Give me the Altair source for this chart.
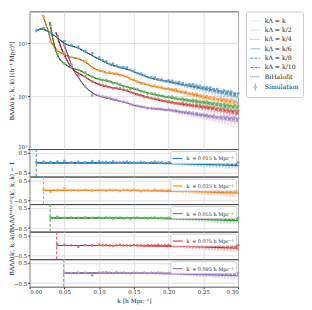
import altair as alt
import pandas as pd

# ---------------- data ----------------
K_GRID = [0.01, 0.02, 0.03, 0.04, 0.05, 0.06, 0.07, 0.08, 0.09, 0.10,
          0.105, 0.11, 0.115, 0.12, 0.125, 0.13, 0.135, 0.14, 0.145, 0.15,
          0.155, 0.16, 0.165, 0.17, 0.175, 0.18, 0.185, 0.19, 0.195, 0.20,
          0.205, 0.21, 0.215, 0.22, 0.225, 0.23, 0.235, 0.24, 0.245, 0.25,
          0.255, 0.26, 0.265, 0.27, 0.275, 0.28, 0.285, 0.29, 0.295, 0.30]

KPRIME = ["k′ = 0.015 h Mpc⁻¹", "k′ = 0.035 h Mpc⁻¹", "k′ = 0.055 h Mpc⁻¹",
          "k′ = 0.075 h Mpc⁻¹", "k′ = 0.095 h Mpc⁻¹"]
BASE = ["#1f77b4", "#ff7f0e", "#2ca02c", "#d62728", "#9467bd"]
K_START = [0.0095, 0.0200, 0.0295, 0.0390, 0.0490]

# BiHalofit model on the tail of K_GRID
B_GRID_0 = [1720, 1840, 1560, 1260, 1000, 890, 810, 690, 590, 500,
            465, 430, 400, 380, 365, 350, 338, 325, 308, 290,
            272, 255, 242, 230, 220, 212, 206, 201, 197, 192,
            186, 180, 175, 170, 166, 162, 158, 154, 150, 146,
            142, 138, 134, 130, 127, 123, 120, 116, 113, 110]
B_GRID_1 = [3100, 1150, 720, 610, 545, 510, 440, 355, 305,
            292, 282, 275, 268, 262, 255, 244, 230, 214, 200,
            188, 178, 170, 163, 158, 153, 149, 145, 141, 138,
            134, 130, 126, 122, 118, 115, 111, 108, 104, 101,
            98, 96, 93, 91, 89, 87, 85, 83, 81, 79]
B_GRID_2 = [2100, 600, 410, 345, 312, 270, 232, 208,
            202, 196, 190, 182, 174, 164, 156, 150, 144, 138,
            132, 126, 121, 116, 112, 108, 105, 102, 99, 97,
            95, 93, 91, 89, 87, 85, 83, 82, 80, 79,
            77, 76, 74, 73, 71, 70, 68, 67, 66, 65]
B_GRID_3 = [1300, 600, 350, 272, 230, 190, 166,
            159, 153, 148, 144, 140, 136, 132, 127, 120, 113,
            108, 103, 99, 95, 92, 89, 86, 84, 81, 79,
            77, 76, 74, 73, 71, 70, 68, 67, 66, 65,
            63, 62, 60, 59, 58, 57, 55, 54, 53, 52]
B_GRID_4 = [900, 400, 230, 150, 117, 100,
            96, 93, 90, 87, 83, 80, 77, 75, 71, 67,
            65, 63, 61, 60, 59, 58, 57, 57, 56, 56,
            54, 53, 52, 51, 50, 49, 48, 47, 46, 45,
            44, 43, 42, 41, 41, 40, 40, 39, 39, 38]

# extra model points (steep starts, wiggles)
EXTRA_K_0 = [0.0095, 0.015, 0.025, 0.035, 0.045, 0.055, 0.065, 0.075, 0.085, 0.095]
EXTRA_B_0 = [1700, 1860, 1720, 1420, 1120, 930, 860, 750, 640, 540]
EXTRA_K_1 = [0.019, 0.022, 0.026, 0.033, 0.036, 0.045, 0.055, 0.065, 0.075, 0.085, 0.095]
EXTRA_B_1 = [3400, 2600, 1850, 950, 850, 660, 570, 530, 480, 400, 325]
EXTRA_K_2 = [0.029, 0.031, 0.033, 0.035, 0.0375, 0.0443, 0.056, 0.065, 0.075, 0.085, 0.095]
EXTRA_B_2 = [2500, 1800, 1290, 1000, 740, 480, 363, 325, 295, 250, 218]
EXTRA_K_3 = [0.038, 0.042, 0.045, 0.049, 0.052, 0.056, 0.065, 0.074, 0.085, 0.095]
EXTRA_B_3 = [1600, 1100, 850, 640, 530, 420, 300, 258, 208, 178]
EXTRA_K_4 = [0.048, 0.051, 0.055, 0.059, 0.0626, 0.066, 0.069, 0.074, 0.0856, 0.095]
EXTRA_B_4 = [1050, 820, 600, 430, 320, 270, 240, 190, 129, 107]

# simulation residuals w.r.t. BiHalofit (on the tail of K_GRID)
RES_0 = [0.02, 0.05, 0.04, 0.06, 0.10, 0.03, 0.05, 0.02, 0.09, 0.07,
         0.03, 0.05, 0.02, 0.08, 0.03, 0.01, 0.04, 0.06, 0.02, 0.03,
         0.00, 0.04, 0.02, -0.01, 0.03, 0.05, 0.01, 0.02, -0.02, 0.03,
         0.04, 0.00, 0.05, 0.02, -0.01, 0.03, 0.06, 0.02, 0.04, 0.00,
         0.03, 0.05, 0.01, 0.04, -0.02, 0.03, 0.02, 0.05, 0.01, 0.03]
RES_1 = [0.04, -0.07, 0.02, 0.09, 0.01, 0.00, 0.03, -0.02, 0.02,
         0.01, -0.02, 0.03, 0.00, 0.02, -0.03, 0.01, 0.02, -0.01, 0.03,
         0.00, -0.04, 0.02, 0.01, -0.02, 0.03, 0.00, 0.01, -0.03, 0.02,
         0.01, 0.03, -0.01, 0.00, 0.02, -0.02, 0.01, 0.03, 0.00, -0.01,
         0.02, 0.00, 0.01, -0.02, 0.03, 0.01, 0.00, 0.02, -0.01]
RES_2 = [0.03, 0.05, 0.01, 0.02, 0.00, 0.03, 0.01, 0.02,
         -0.01, 0.02, 0.00, -0.03, 0.01, 0.02, -0.02, 0.00, -0.04, 0.01,
         0.02, -0.01, 0.00, -0.03, 0.01, 0.02, -0.01, 0.00, -0.02, 0.01,
         0.03, 0.00, -0.02, 0.01, 0.00, -0.03, 0.02, 0.01, -0.01, 0.00,
         0.02, -0.02, 0.01, 0.00, -0.01, 0.02, 0.00, -0.02, 0.01, 0.00]
RES_3 = [0.04, 0.03, 0.01, -0.06, 0.02, 0.00, 0.03,
         0.01, 0.02, 0.00, -0.02, 0.01, 0.03, 0.00, 0.01, -0.01, 0.02,
         0.00, 0.01, -0.02, 0.02, 0.00, 0.01, 0.03, -0.01, 0.00, 0.02,
         0.01, -0.02, 0.00, 0.02, 0.01, -0.01, 0.00, 0.03, 0.01, -0.02,
         0.00, 0.01, 0.02, -0.01, 0.00, 0.02, 0.01, -0.02, 0.00, 0.01]
RES_4 = [0.01, 0.00, 0.02, 0.01, -0.12, 0.02,
         0.03, 0.04, 0.02, 0.00, 0.03, 0.01, 0.02, 0.00, -0.01, 0.02,
         0.01, 0.00, 0.02, -0.01, 0.01, 0.00, 0.02, 0.01, -0.02, 0.00,
         0.01, 0.02, 0.00, -0.01, 0.01, 0.02, 0.00, 0.01, -0.02, 0.00,
         0.01, 0.00, 0.02, -0.01, 0.00, 0.01, 0.00, -0.01, 0.01, 0.00]

# relative simulation errors on K_GRID
ERR = [0.09, 0.06, 0.05, 0.045, 0.04, 0.035, 0.032, 0.03, 0.028, 0.026,
       0.025, 0.025, 0.024, 0.024, 0.023, 0.023, 0.022, 0.022, 0.021, 0.021,
       0.02, 0.02, 0.02, 0.019, 0.019, 0.019, 0.018, 0.018, 0.018, 0.018,
       0.017, 0.017, 0.017, 0.017, 0.016, 0.016, 0.016, 0.016, 0.016, 0.015,
       0.015, 0.015, 0.015, 0.015, 0.015, 0.014, 0.014, 0.014, 0.014, 0.014]

LABELS = ["kΛ = k", "kΛ = k/2", "kΛ = k/4", "kΛ = k/6", "kΛ = k/8", "kΛ = k/10",
          "BiHalofit", "Simulation"]

# k_Λ variants relative to BiHalofit beyond k = 0.15 (zero below)
FAN_K = [0.175, 0.2, 0.225, 0.25, 0.275, 0.3]
FAN_R = [[-0.03, -0.07, -0.12, -0.18, -0.24, -0.31],
         [-0.025, -0.055, -0.095, -0.14, -0.19, -0.25],
         [-0.02, -0.04, -0.07, -0.105, -0.145, -0.19],
         [-0.015, -0.03, -0.05, -0.075, -0.105, -0.135],
         [-0.01, -0.02, -0.035, -0.05, -0.07, -0.09],
         [-0.005, -0.01, -0.018, -0.027, -0.038, -0.05]]

X_TICKS = [0.0, 0.05, 0.10, 0.15, 0.20, 0.25, 0.30]

# ---------------- styles ----------------
W = (255, 255, 255)
BK = (0, 0, 0)
SHADE = [(W, 0.72), (W, 0.6), (W, 0.46), (W, 0.2), (BK, 0.08), (BK, 0.22), (BK, 0.45)]
SIM_SHADE = (W, 0.3)
DASH = [[2, 1.2], [2, 1.2], [2, 1.2], [1, 0], [3, 1.2], [3, 1.2], [1, 1], [1, 0]]
WIDTH = [0.8, 0.8, 0.8, 1.3, 0.8, 0.8, 1.0, 1.0]
EB_PATH = "M0,-0.8V0.8M-0.25,0A0.25,0.25,0,1,1,0.25,0A0.25,0.25,0,1,1,-0.25,0"


def mix(c, t, to):
    r, g, b = int(c[1:3], 16), int(c[3:5], 16), int(c[5:7], 16)
    return "#%02x%02x%02x" % (round(r + (to[0] - r) * t),
                              round(g + (to[1] - g) * t),
                              round(b + (to[2] - b) * t))


B_GRID = [B_GRID_0, B_GRID_1, B_GRID_2, B_GRID_3, B_GRID_4]
EXTRA_K = [EXTRA_K_0, EXTRA_K_1, EXTRA_K_2, EXTRA_K_3, EXTRA_K_4]
EXTRA_B = [EXTRA_B_0, EXTRA_B_1, EXTRA_B_2, EXTRA_B_3, EXTRA_B_4]
RES = [RES_0, RES_1, RES_2, RES_3, RES_4]

top_rows, res_rows, sim_rows = [], [], []
for i in range(5):
    n = len(B_GRID[i])
    ks = K_GRID[-n:]
    errs = ERR[-n:]
    grid = {round(k, 4): b for k, b in zip(ks, B_GRID[i])}
    model = sorted(list(zip(ks, B_GRID[i])) + list(zip(EXTRA_K[i], EXTRA_B[i])))
    cols = [mix(BASE[i], t, to) for to, t in SHADE]
    for v in range(6):
        pts = [(k, b) for k, b in model if k <= 0.15] + \
              [(fk, grid[round(fk, 4)] * (1 + FAN_R[v][j])) for j, fk in enumerate(FAN_K)]
        for k, b in pts:
            top_rows.append(dict(series=i, label=LABELS[v], k=k, B=b, hex=cols[v], ord=v))
        rpts = [(K_START[i], 0.0), (0.15, 0.0)] + [(fk, FAN_R[v][j]) for j, fk in enumerate(FAN_K)]
        for k, r in rpts:
            res_rows.append(dict(series=i, label=LABELS[v], k=k, r=r, hex=cols[v], ord=v,
                                 plabel=KPRIME[i]))
    for k, b in model:
        top_rows.append(dict(series=i, label=LABELS[6], k=k, B=b, hex=cols[6], ord=6))
    for k in (K_START[i], 0.30):
        res_rows.append(dict(series=i, label=LABELS[6], k=k, r=0.0, hex=cols[6], ord=6,
                             plabel=KPRIME[i]))
    sc = mix(BASE[i], SIM_SHADE[1], SIM_SHADE[0])
    for k, r, e in zip(ks, RES[i], errs):
        b = grid[round(k, 4)] * (1 + r)
        sim_rows.append(dict(series=i, label=LABELS[7], k=k, B=b, Blo=b * (1 - e), Bhi=b * (1 + e),
                             r=r, rlo=r - e, rhi=r + e, hex=sc))

top_df = pd.DataFrame(top_rows).sort_values(["ord", "series"])
res_df = pd.DataFrame(res_rows).sort_values(["ord", "series"])
sim_df = pd.DataFrame(sim_rows)

# ---------------- sizes ----------------
PW = 212
TOP_H = 140
RES_H = 28
TITLE_X = -15

xscale = alt.Scale(domain=[0, 0.3], nice=False, zero=False)

blue_cols = [mix(BASE[0], t, to) for to, t in SHADE] + [mix(BASE[0], SIM_SHADE[1], SIM_SHADE[0])]
top_leg = alt.Legend(title=None, orient="right", offset=8, padding=4, rowPadding=0.5,
                     strokeColor="#cccccc", fillColor="#ffffff", cornerRadius=2,
                     labelFont="DejaVu Serif", labelFontSize=6.3, labelColor="#222222",
                     symbolSize=100, labelOffset=4)
color_scale = alt.Scale(domain=LABELS, range=blue_cols)
dash_scale = alt.Scale(domain=LABELS, range=DASH)
width_scale = alt.Scale(domain=LABELS, range=WIDTH)
shape_scale = alt.Scale(domain=LABELS, range=["stroke"] * 7 + [EB_PATH])

x_top = alt.X("k:Q", scale=xscale,
              axis=alt.Axis(values=X_TICKS, labels=False, ticks=False, title=None,
                            grid=True, domain=False))
y_top = alt.Y("B:Q", scale=alt.Scale(type="log", domain=[10, 4000], nice=False),
              axis=alt.Axis(values=[10, 100, 1000], grid=True, domain=False,
                            labelFlush=True, labelOverlap=False,
                            labelExpr="datum.value == 10 ? '10¹' : datum.value == 100 ? '10²' : '10³'",
                            title="BΛΛΛ(k′, k, k) [(h⁻¹ Mpc)⁶]", titleX=TITLE_X))

other_lines = alt.Chart(top_df[top_df.series != 0]).mark_line(clip=True).encode(
    x=x_top, y=y_top,
    color=alt.Color("hex:N", scale=None),
    strokeDash=alt.StrokeDash("label:N", scale=dash_scale, legend=top_leg),
    strokeWidth=alt.StrokeWidth("label:N", scale=width_scale, legend=top_leg),
    detail="series:N",
)
blue_lines = alt.Chart(top_df[top_df.series == 0]).mark_line(clip=True).encode(
    x=x_top, y=y_top,
    color=alt.Color("label:N", scale=color_scale, legend=top_leg),
    strokeDash=alt.StrokeDash("label:N", scale=dash_scale, legend=top_leg),
    strokeWidth=alt.StrokeWidth("label:N", scale=width_scale, legend=top_leg),
)
top_err = alt.Chart(sim_df).mark_rule(strokeWidth=0.8).encode(
    x=x_top, y=alt.Y("Blo:Q", scale=alt.Scale(type="log", domain=[10, 4000], nice=False)),
    y2="Bhi:Q", color=alt.Color("hex:N", scale=None),
)
top_pts = alt.Chart(sim_df).mark_circle(size=9, opacity=0.9).encode(
    x=x_top, y=y_top, color=alt.Color("hex:N", scale=None),
)
legend_dummy = alt.Chart(sim_df[sim_df.series == 0]).mark_point(filled=False).encode(
    x=x_top, y=y_top,
    color=alt.Color("label:N", scale=color_scale, legend=top_leg),
    shape=alt.Shape("label:N", scale=shape_scale, legend=top_leg),
    strokeDash=alt.StrokeDash("label:N", scale=dash_scale, legend=top_leg),
    strokeWidth=alt.StrokeWidth("label:N", scale=width_scale, legend=top_leg),
).transform_filter("false")

top = alt.layer(other_lines, blue_lines, top_err, top_pts, legend_dummy).properties(
    width=PW, height=TOP_H)

RES_TITLE = "BΛΛΛ(k′, k, k)/BΛΛΛᴮⁱᴴᵃˡᵒᶠⁱᵗ(k′, k, k) − 1"
res_charts = []
for i in range(5):
    last = i == 4
    x_res = alt.X("k:Q", scale=xscale,
                  axis=alt.Axis(values=X_TICKS, labels=last, ticks=last, format=".2f",
                                title="k [h Mpc⁻¹]" if last else None, grid=True, domain=False))
    y_axis_kw = dict(values=[-0.5, 0, 0.5], grid=True, domain=False, labelOverlap=False,
                     labelExpr="datum.value < 0 ? '−' + format(-datum.value, '.1f') : format(datum.value, '.1f')")
    if i == 2:
        y_axis_kw.update(title=RES_TITLE, titleX=TITLE_X)
    else:
        y_axis_kw.update(title=None)
    yscale = alt.Scale(domain=[-0.68, 0.68], nice=False)
    y_res = alt.Y("r:Q", scale=yscale, axis=alt.Axis(**y_axis_kw))

    d = res_df[res_df.series == i]
    vline = alt.Chart(pd.DataFrame({"k": [K_START[i]]})).mark_rule(
        strokeDash=[3, 2], strokeWidth=1.2, color=mix(BASE[i], 0.25, W)).encode(x=x_res)
    lines = alt.Chart(d[d.label != LABELS[3]]).mark_line(clip=True).encode(
        x=x_res, y=y_res,
        color=alt.Color("hex:N", scale=None),
        strokeDash=alt.StrokeDash("label:N", scale=dash_scale, legend=None),
        strokeWidth=alt.StrokeWidth("label:N", scale=width_scale, legend=None),
    )
    k6 = d[d.label == LABELS[3]]
    leg_line = alt.Chart(k6).mark_line(clip=True, strokeWidth=1.2).encode(
        x=x_res, y=y_res,
        color=alt.Color("plabel:N", scale=alt.Scale(domain=[KPRIME[i]], range=[BASE[i]]),
                        legend=alt.Legend(title=None, orient="top-right", offset=2, padding=1.5,
                                          strokeColor="#cccccc", fillColor="#ffffff",
                                          cornerRadius=2, labelFont="DejaVu Serif",
                                          labelFontSize=5, labelColor="#222222",
                                          symbolSize=100, symbolType="stroke",
                                          symbolStrokeWidth=1.2, labelOffset=3)),
    )
    s = sim_df[sim_df.series == i]
    err = alt.Chart(s).mark_rule(strokeWidth=0.8).encode(
        x=x_res, y=alt.Y("rlo:Q", scale=yscale), y2="rhi:Q", color=alt.Color("hex:N", scale=None))
    pts = alt.Chart(s).mark_circle(size=8, opacity=0.9).encode(
        x=x_res, y=y_res, color=alt.Color("hex:N", scale=None))
    res_charts.append(alt.layer(vline, lines, leg_line, err, pts).properties(width=PW, height=RES_H))

chart = alt.vconcat(top, *res_charts, spacing=0, bounds="flush").resolve_scale(
    color="independent", strokeDash="independent", strokeWidth="independent", shape="independent",
    x="independent", y="independent"
).resolve_legend(
    color="independent", strokeDash="independent", strokeWidth="independent", shape="independent"
).properties(
    padding={"left": 0, "top": 0, "right": 0, "bottom": 0}
).configure_view(
    stroke="#444444", strokeWidth=0.9
).configure_axis(
    labelFont="DejaVu Serif", labelFontSize=5.5, labelColor="#222222", labelPadding=1,
    titleFont="DejaVu Serif", titleFontSize=6, titleFontWeight="normal", titleColor="#222222",
    titlePadding=2, gridColor="#d9d9d9", gridWidth=0.8, tickColor="#333333", tickSize=2
)

chart.save("out.html", embed_options={"renderer": "svg", "actions": False})
